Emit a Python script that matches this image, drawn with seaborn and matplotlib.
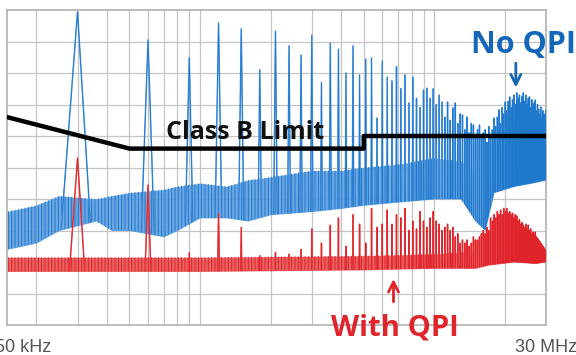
import numpy as np
import pandas as pd
import matplotlib
matplotlib.use("Agg")
import matplotlib.pyplot as plt
import seaborn as sns

# --- data (frequency in MHz, level in dBuV) ---
fsw_mhz = 0.3
harmonic_n = np.arange(1, 101)

blue_peaks = [99.4, 90.5, 84.8, 95.9, 94.0, 81.0, 93.3, 88.6, 85.7, 92.0,
              77.0, 89.5, 87.6, 80.0, 88.6, 79.4, 84.4, 84.8, 65.7, 83.8,
              78.7, 77.5, 82.0, 75.0, 79.4, 70.5, 78.7, 72.0, 69.0, 74.6,
              75.2, 72.0, 75.0, 70.0, 73.0, 70.8, 66.0, 70.8, 65.0, 68.9,
              70.5, 64.0, 67.0, 66.7, 62.0, 66.0, 61.0, 64.0, 63.5, 60.0,
              62.0, 63.5, 60.0, 61.0, 62.0, 58.0, 63.0, 60.0, 62.0, 65.7,
              63.0, 66.0, 68.3, 64.0, 69.0, 67.0, 70.8, 68.0, 71.0, 72.4,
              69.0, 71.5, 73.0, 70.0, 73.7, 72.0, 73.0, 70.5, 72.5, 73.7,
              71.0, 73.0, 70.0, 72.0, 72.4, 69.0, 71.5, 70.0, 70.5, 71.4,
              68.0, 70.0, 68.5, 67.0, 69.2, 66.0, 68.0, 67.0, 66.5, 68.3]

red_peaks = [53.0, 44.4, 23.0, 35.5, 31.0, 22.0, 23.0, 22.5, 24.0, 30.5,
             26.0, 31.7, 34.0, 25.0, 35.0, 32.0, 26.0, 37.0, 31.0, 32.0,
             36.5, 32.0, 35.0, 34.0, 37.0, 30.0, 33.0, 30.5, 36.0, 33.0,
             31.0, 34.0, 36.0, 33.0, 32.0, 30.0, 31.0, 32.0, 30.0, 31.0,
             28.0, 29.0, 26.0, 27.0, 26.0, 27.0, 25.0, 26.0, 28.0, 27.0,
             27.0, 28.0, 29.0, 30.0, 29.0, 31.0, 30.0, 34.0, 33.0, 35.0,
             34.0, 36.0, 35.0, 36.5, 35.0, 37.0, 36.0, 37.0, 35.5, 36.0,
             35.0, 35.5, 34.0, 35.0, 34.6, 33.0, 33.5, 32.0, 32.5, 31.7,
             31.0, 32.0, 30.5, 31.7, 30.0, 30.5, 29.0, 29.5, 28.5, 29.5,
             28.0, 27.5, 27.0, 26.5, 26.0, 25.5, 25.0, 24.5, 24.0, 23.0]

# noise floor band (lower / upper edge)
blue_floor_f = [0.15, 0.2, 0.25, 0.36, 0.42, 0.5, 0.7, 0.8, 1.0, 1.3, 1.6,
                2.0, 3.0, 4.0, 5.0, 7.0, 10.0, 13.0, 15.0, 16.5, 18.0, 22.0, 26.0, 30.0]
blue_floor_lo = [24, 26, 30, 33, 30, 30, 28, 30, 34, 34, 33,
                 35, 36, 37, 38, 39, 40, 40, 33, 30, 42, 44, 45, 46]
blue_floor_hi = [36, 38, 41, 40, 41, 42, 43, 44, 45, 44, 46,
                 47, 49, 49, 50, 51, 53, 52, 48, 46, 54, 56, 57, 57]

red_floor_f = [0.15, 1.0, 5.0, 10.0, 15.0, 17.0, 22.0, 27.0, 30.0]
red_floor_lo = [17.0, 17.0, 17.5, 18.0, 18.0, 19.0, 20.0, 19.5, 20.0]
red_floor_hi = [21.5, 21.5, 22.0, 22.5, 23.5, 27.0, 28.0, 27.0, 24.0]

# CISPR 22 Class B quasi-peak limit
limit_f = [0.15, 0.5, 5.0, 5.0, 30.0]
limit_db = [66, 56, 56, 60, 60]

BLUE = "#1f78cc"
BLUE_LIGHT = "#79b0e4"
RED = "#e0242c"
RED_LIGHT = "#ef7b7b"


def peak_trace(peaks, slope=1.6):
    """Sharp spectral line at each harmonic, level falls `slope` dB per kHz."""
    xs, ys = [], []
    for n, tip in zip(harmonic_n, peaks):
        w = tip / slope
        df = np.array([-w, 0.0, w])
        xs.extend(list(n * fsw_mhz + df / 1000.0) + [np.nan])
        ys.extend(list(tip - slope * np.abs(df)) + [np.nan])
    return np.array(xs), np.array(ys)


def draw_trace(ax, floor_f, lo, hi, peaks, color, light):
    ax.fill_between(floor_f, lo, hi, facecolor=light, alpha=0.9, lw=0, zorder=2)
    ax.fill_between(floor_f, lo, hi, facecolor="none", edgecolor=color,
                    hatch="|||||", lw=0, zorder=2)
    clip = ax.fill_between(floor_f, lo, 120, alpha=0, lw=0)
    px, py = peak_trace(peaks)
    ln_light, = ax.plot(px, py, color=light, lw=1.1, zorder=3)
    ln, = ax.plot(px, py, color=color, lw=0.6, zorder=3)
    for a in (ln_light, ln):
        a.set_clip_path(clip.get_paths()[0], ax.transData)


sns.set_style("white")
plt.rcParams["font.family"] = ["Open Sans", "DejaVu Sans"]
plt.rcParams["hatch.linewidth"] = 0.7

fig = plt.figure(figsize=(5.76, 3.55), dpi=100)
ax = fig.add_axes([7 / 576, 30 / 355, 539 / 576, 315 / 355])
ax.set_xscale("log")
ax.set_xlim(0.15, 30)
ax.set_ylim(0, 100)

grid_f = [0.2, 0.3, 0.4, 0.5, 0.6, 0.7, 0.8, 0.9, 1, 2, 3, 4, 5, 6, 7, 8, 9, 10, 20]
ax.set_xticks(grid_f)
ax.set_xticks([], minor=True)
ax.set_yticks(np.arange(10, 100, 10))
ax.set_xticklabels([])
ax.set_yticklabels([])
ax.tick_params(length=0)
ax.grid(True, color="#c4c4c4", lw=0.9, zorder=0)
for s in ax.spines.values():
    s.set_color("#b0b0b0")
    s.set_linewidth(1.2)

draw_trace(ax, blue_floor_f, blue_floor_lo, blue_floor_hi, blue_peaks, BLUE, "#5d9fe0")
draw_trace(ax, red_floor_f, red_floor_lo, red_floor_hi, red_peaks, RED, "#e85050")

limit = pd.DataFrame({"f": limit_f, "db": limit_db})
sns.lineplot(data=limit, x="f", y="db", estimator=None, sort=False,
             color="black", lw=3.2, ax=ax, zorder=5)
ax.set_xlabel("")
ax.set_ylabel("")

ax.text(1.56, 61, "Class B Limit", ha="center", va="center", fontsize=18,
        fontweight="bold", color="#111111", zorder=6)
ax.text(24.0, 89, "No QPI", ha="center", va="center", fontsize=22,
        fontweight="bold", color="#1467b8", zorder=6, clip_on=False)
ax.annotate("", xy=(22.3, 74.5), xytext=(22.3, 84),
            arrowprops=dict(arrowstyle="->", color="#1467b8", lw=2,
                            mutation_scale=18), zorder=6)
ax.text(6.8, -1, "With QPI", ha="center", va="center", fontsize=21,
        fontweight="bold", color=RED, zorder=6, clip_on=False)
ax.annotate("", xy=(6.7, 15.5), xytext=(6.7, 6.5),
            arrowprops=dict(arrowstyle="->", color=RED, lw=2,
                            mutation_scale=18), annotation_clip=False, zorder=6)

# frequency-span labels, the left one runs off the edge as in the source
fig.text(51 / 576, 1 - 347 / 355, "150 kHz", ha="right", va="center",
         fontsize=13, color="#555555", family="Liberation Sans")
fig.text(577 / 576, 1 - 347 / 355, "30 MHz", ha="right", va="center",
         fontsize=13, color="#555555", family="Liberation Sans")

fig.savefig("out.png", dpi=100)
